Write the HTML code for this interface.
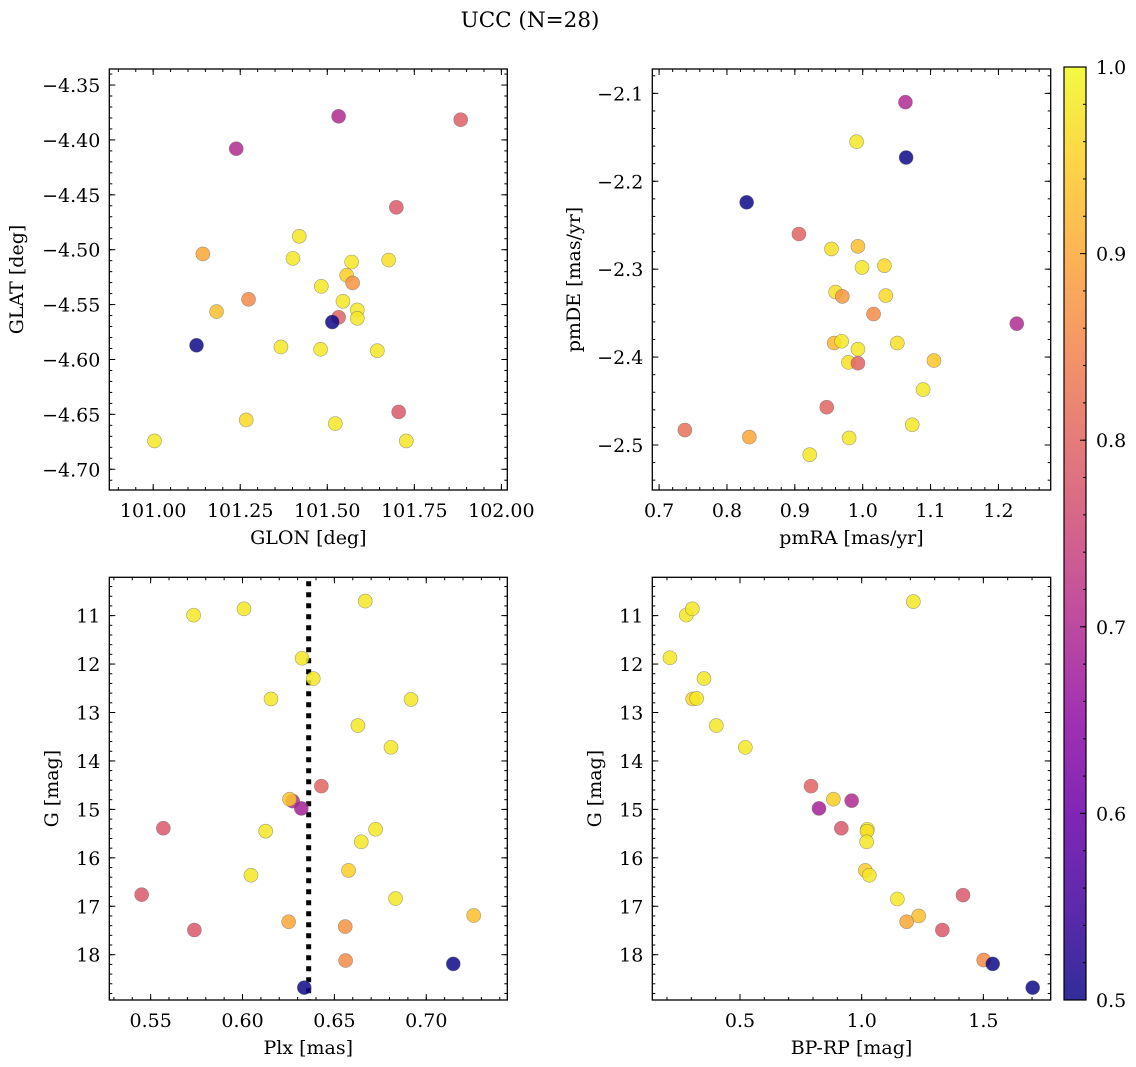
<!DOCTYPE html>
<html><head><meta charset="utf-8"><style>
html,body{margin:0;padding:0;background:#fff;}
svg{display:block;font-family:"DejaVu Serif","Liberation Serif",serif;}
</style></head><body>
<svg id="fig" width="1136" height="1067" viewBox="0 0 1136 1067" xmlns="http://www.w3.org/2000/svg">
<text x="530" y="27" font-size="21.5" text-anchor="middle">UCC (N=28)</text>
</svg>
<script>
// ---- data ----
const glon = [101.2385,101.5326,101.8831,101.6983,101.4195,101.1427,101.4013,101.5699,101.6762,101.5556,101.5728,101.4828,101.2739,101.5450,101.1820,101.5862,101.5862,101.5326,101.5144,101.1245,101.3669,101.4808,101.6437,101.7050,101.2672,101.5230,101.0038,101.7270];
const glat = [-4.408,-4.3785,-4.3816,-4.4614,-4.4878,-4.5039,-4.5079,-4.5112,-4.5094,-4.5233,-4.5303,-4.5334,-4.5452,-4.5470,-4.5564,-4.5549,-4.5625,-4.5616,-4.5659,-4.5871,-4.5886,-4.5907,-4.5920,-4.6478,-4.6551,-4.6584,-4.6742,-4.6742];
const probGal = [0.70,0.70,0.79,0.78,0.98,0.90,0.98,0.98,0.97,0.95,0.87,0.98,0.86,0.98,0.93,0.98,0.98,0.80,0.5,0.5,0.98,0.98,0.98,0.78,0.96,0.98,0.98,0.98];

const pmra = [1.063,0.991,1.064,0.829,0.906,0.954,0.993,0.999,1.032,0.960,0.970,1.034,1.016,1.227,0.958,0.969,1.051,0.993,0.979,0.993,1.105,1.089,0.947,0.738,0.833,0.980,1.073,0.922];
const pmde = [-2.110,-2.155,-2.173,-2.224,-2.260,-2.277,-2.274,-2.298,-2.296,-2.326,-2.331,-2.330,-2.351,-2.362,-2.384,-2.382,-2.384,-2.391,-2.406,-2.407,-2.404,-2.437,-2.457,-2.483,-2.491,-2.492,-2.477,-2.511];
const probPm = [0.70,0.98,0.5,0.5,0.80,0.97,0.93,0.98,0.96,0.97,0.88,0.96,0.86,0.70,0.92,0.98,0.97,0.98,0.97,0.80,0.94,0.98,0.80,0.82,0.90,0.98,0.98,0.98];

const plx = [0.5734,0.6008,0.6668,0.6324,0.6385,0.6155,0.6917,0.6628,0.6808,0.6429,0.6273,0.6256,0.6320,0.5569,0.6126,0.6724,0.6646,0.6046,0.6577,0.5451,0.6833,0.7258,0.6251,0.6559,0.5738,0.6561,0.7147,0.6336];
const gPlx = [10.99,10.86,10.70,11.88,12.30,12.72,12.73,13.27,13.72,14.52,14.83,14.79,14.98,15.39,15.45,15.41,15.67,16.36,16.26,16.76,16.84,17.19,17.32,17.42,17.49,18.12,18.19,18.68];
const probPlx = [0.98,0.98,0.98,0.98,0.98,0.98,0.98,0.98,0.98,0.80,0.70,0.94,0.68,0.78,0.98,0.98,0.98,0.98,0.95,0.78,0.98,0.93,0.90,0.87,0.78,0.86,0.5,0.5];
const plxMedian = [0.636];

const bprp = [1.2123,0.2795,0.3041,0.2123,0.3521,0.3055,0.3219,0.4027,0.5219,0.7918,0.8836,0.8247,0.9589,0.9164,1.0233,1.0219,1.0205,1.0151,1.0315,1.4164,1.1466,1.2342,1.1849,1.3315,1.5014,1.5384,1.7027];
const gCmd = [10.71,10.99,10.86,11.87,12.30,12.72,12.71,13.27,13.72,14.52,14.79,14.98,14.82,15.39,15.41,15.45,15.67,16.26,16.36,16.77,16.85,17.20,17.32,17.49,18.11,18.19,18.68];
const probCmd = [0.98,0.98,0.98,0.98,0.98,0.96,0.98,0.98,0.98,0.80,0.95,0.68,0.70,0.78,0.98,0.97,0.98,0.95,0.98,0.78,0.98,0.93,0.90,0.78,0.86,0.5,0.5];

const cbarTicks = [0.5,0.6,0.7,0.8,0.9,1.0];

// ---- drawing ----
const NS = "http://www.w3.org/2000/svg";
const svg = document.getElementById('fig');
const FS = 19;
function mk(tag, attrs, parent){const e=document.createElementNS(NS,tag);for(const k in attrs)e.setAttribute(k,attrs[k]);(parent||svg).appendChild(e);return e;}
const plasma=[[13,8,135],[65,4,157],[106,0,168],[143,13,164],[177,42,144],[204,71,120],[225,100,98],[242,132,75],[252,166,54],[252,206,37],[240,249,33]];
function cmap(v){let t=Math.max(0,Math.min(1,(v-0.5)/0.5))*10;const i=Math.min(9,Math.floor(t));const f=t-i;const a=plasma[i],b=plasma[i+1];return `rgb(${Math.round(a[0]+(b[0]-a[0])*f)},${Math.round(a[1]+(b[1]-a[1])*f)},${Math.round(a[2]+(b[2]-a[2])*f)})`;}
function fmt(v,d){return v.toFixed(d).replace('-','\u2212');}

function panel(p){
  const {x0,x1,y0,y1,xmin,xmax,ymin,ymax,inv}=p;
  const sx=v=>x0+(v-xmin)/(xmax-xmin)*(x1-x0);
  const sy=inv?(v=>y0+(v-ymin)/(ymax-ymin)*(y1-y0)):(v=>y1-(v-ymin)/(ymax-ymin)*(y1-y0));
  const g=mk('g',{});
  
  
  function ticksX(step,len,labels,dec){
    const s=Math.ceil(xmin/step-1e-6);
    for(let k=s;k*step<=xmax+1e-9;k++){const v=k*step;const x=sx(v);
      mk('line',{x1:x,x2:x,y1:y1,y2:y1-len,stroke:'#000','stroke-width':1},g);
      mk('line',{x1:x,x2:x,y1:y0,y2:y0+len,stroke:'#000','stroke-width':1},g);
      if(labels){const t=mk('text',{x:x,y:y1+27,'font-size':FS,'text-anchor':'middle'},g);t.textContent=fmt(v,dec);
        }
    }
  }
  function ticksY(step,len,labels,dec){
    const lo=Math.min(ymin,ymax),hi=Math.max(ymin,ymax);
    const s=Math.ceil(lo/step-1e-6);
    for(let k=s;k*step<=hi+1e-9;k++){const v=k*step;const y=sy(v);
      mk('line',{x1:x0,x2:x0+len,y1:y,y2:y,stroke:'#000','stroke-width':1},g);
      mk('line',{x1:x1,x2:x1-len,y1:y,y2:y,stroke:'#000','stroke-width':1},g);
      if(labels){const t=mk('text',{x:x0-9,y:y+7,'font-size':FS,'text-anchor':'end'},g);t.textContent=fmt(v,dec);
        }
    }
  }
  ticksX(p.xminor,3,false);ticksX(p.xmajor,6,true,p.xdec);
  ticksY(p.yminor,3,false);ticksY(p.ymajor,6,true,p.ydec);
  if(p.vline!==undefined){const x=sx(p.vline);const l=mk('line',{x1:x,x2:x,y1:y0+4,y2:y1,stroke:'#000','stroke-width':5,'stroke-dasharray':'5,6'},g);
    }
  for(let i=0;i<p.xs.length;i++){
    const c=mk('circle',{cx:sx(p.xs[i]),cy:sy(p.ys[i]),r:7,fill:cmap(p.cs[i]),'fill-opacity':0.85,stroke:'#666','stroke-opacity':0.6,'stroke-width':0.6},g);
    
    
  }
  const fr=mk('rect',{x:x0,y:y0,width:x1-x0,height:y1-y0,fill:'none',stroke:'#000','stroke-width':1.3},g);
  
  const xl=mk('text',{x:(x0+x1)/2,y:y1+54,'font-size':FS,'text-anchor':'middle'},g);xl.textContent=p.xlabel;
  
  const yx=p.ylx, yy=(y0+y1)/2;
  const yl=mk('text',{x:yx,y:yy,'font-size':FS,'text-anchor':'middle',transform:`rotate(-90 ${yx} ${yy})`},g);yl.textContent=p.ylabel;
  
}

panel({name:'glon-glat-panel',x0:109.3,x1:507.3,y0:69,y1:490,xmin:100.874,xmax:102.017,ymin:-4.7189,ymax:-4.3354,
  xmajor:0.25,xminor:0.05,xdec:2,ymajor:0.05,yminor:0.01,ydec:2,xs:glon,ys:glat,cs:probGal,xlabel:'GLON [deg]',ylabel:'GLAT [deg]',ylx:23});
panel({name:'pm-panel',x0:652.3,x1:1050.7,y0:69,y1:490,xmin:0.690,xmax:1.277,ymin:-2.5512,ymax:-2.0723,
  xmajor:0.1,xminor:0.02,xdec:1,ymajor:0.1,yminor:0.02,ydec:1,xs:pmra,ys:pmde,cs:probPm,xlabel:'pmRA [mas/yr]',ylabel:'pmDE [mas/yr]',ylx:580});
panel({name:'plx-g-panel',x0:109.3,x1:507.3,y0:577.3,y1:1000,xmin:0.5275,xmax:0.7441,ymin:10.209,ymax:18.935,inv:true,
  xmajor:0.05,xminor:0.01,xdec:2,ymajor:1,yminor:0.2,ydec:0,xs:plx,ys:gPlx,cs:probPlx,vline:plxMedian[0],xlabel:'Plx [mas]',ylabel:'G [mag]',ylx:58});
panel({name:'cmd-panel',x0:652.3,x1:1050.7,y0:577.3,y1:1000,xmin:0.1397,xmax:1.7767,ymin:10.209,ymax:18.935,inv:true,
  xmajor:0.5,xminor:0.1,xdec:1,ymajor:1,yminor:0.2,ydec:0,xs:bprp,ys:gCmd,cs:probCmd,xlabel:'BP-RP [mag]',ylabel:'G [mag]',ylx:601});

// colorbar
(function(){
  const cx0=1064,cx1=1086,cy0=67,cy1=1000;
  const g=mk('g',{});
  
  
  const defs=mk('defs',{},g);
  const lg=mk('linearGradient',{id:'pl',x1:0,y1:1,x2:0,y2:0},defs);
  for(let i=0;i<=10;i++){mk('stop',{offset:i/10,'stop-color':cmap(0.5+i*0.05),'stop-opacity':0.85},lg);}
  mk('rect',{x:cx0,y:cy0,width:cx1-cx0,height:cy1-cy0,fill:'url(#pl)'},g);
  const sy=v=>cy1-(v-0.5)/0.5*(cy1-cy0);
  for(let k=25;k<=50;k++){const v=k*0.02;const y=sy(v);mk('line',{x1:cx1,x2:cx1-3,y1:y,y2:y,stroke:'#000','stroke-width':1},g);}
  for(const v of cbarTicks){const y=sy(v);mk('line',{x1:cx1,x2:cx1-6,y1:y,y2:y,stroke:'#000','stroke-width':1},g);
    const t=mk('text',{x:cx1+10,y:y+7,'font-size':FS},g);t.textContent=v.toFixed(1);
    }
  mk('rect',{x:cx0,y:cy0,width:cx1-cx0,height:cy1-cy0,fill:'none',stroke:'#000','stroke-width':1.2},g);
})();
</script>
</body></html>
